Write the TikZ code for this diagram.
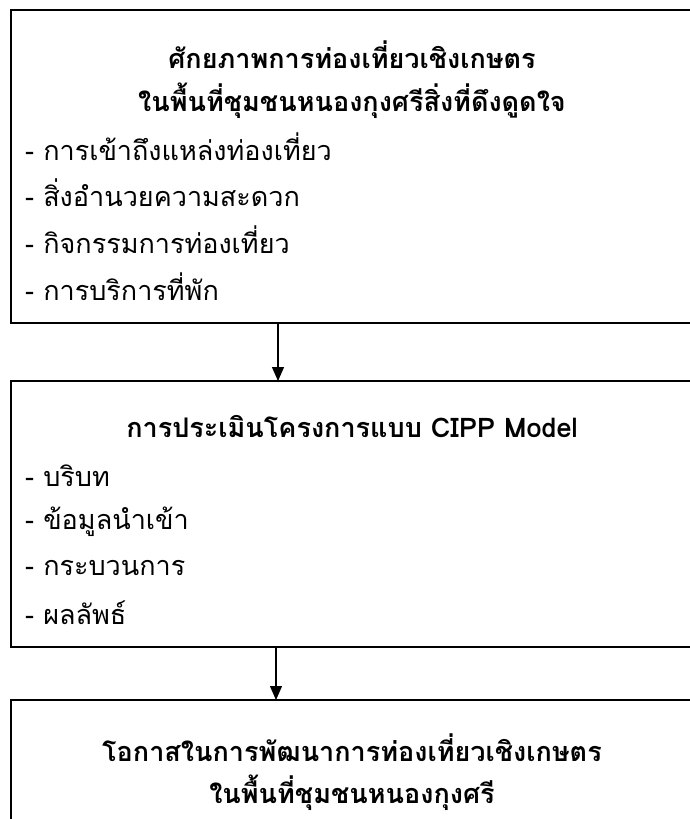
\documentclass[tikz,border=0pt]{standalone}
\usepackage{fontspec}
\newfontfamily\thaifont[Script=Thai]{Loma}
\usetikzlibrary{arrows.meta}
\begin{document}
\begin{tikzpicture}[x=1pt,y=-1pt,
  box/.style={draw=black,line width=1.3pt,rectangle,inner sep=0pt},
  title/.style={font=\thaifont\bfseries\fontsize{27}{32}\selectfont,inner sep=0pt,anchor=center},
  item/.style={font=\thaifont\fontsize{27}{32}\selectfont,inner sep=0pt,anchor=west},
  conn/.style={line width=1.3pt,-{Triangle[width=12pt,length=14pt]}}]
\useasboundingbox (0,0) rectangle (690,819);
\begin{scope}
\clip (0,0) rectangle (690,819);
\draw[box] (11,10) rectangle (694,323);
\draw[box] (11,381) rectangle (694,647);
\draw[box] (11,700) rectangle (694,830);
\end{scope}
\coordinate (b1s) at (278,323);
\coordinate (b2n) at (278,381);
\coordinate (b2s) at (276,647);
\coordinate (b3n) at (276,700);
\node[title] (t1a) at (352,55) {ศักยภาพการท่องเที่ยวเชิงเกษตร};
\node[title] (t1b) at (352,101) {ในพื้นที่ชุมชนหนองกุงศรีสิ่งที่ดึงดูดใจ};
\node[item] (i1) at (25,147) {- การเข้าถึงแหล่งท่องเที่ยว};
\node[item] (i2) at (25,193) {- สิ่งอำนวยความสะดวก};
\node[item] (i3) at (25,240) {- กิจกรรมการท่องเที่ยว};
\node[item] (i4) at (25,287) {- การบริการที่พัก};
\node[title] (t2) at (352,427) {การประเมินโครงการแบบ CIPP Model};
\node[item] (j1) at (25,476) {- บริบท};
\node[item] (j2) at (25,522) {- ข้อมูลนำเข้า};
\node[item] (j3) at (25,568) {- กระบวนการ};
\node[item] (j4) at (25,613) {- ผลลัพธ์};
\node[title] (t3a) at (352,748) {โอกาสในการพัฒนาการท่องเที่ยวเชิงเกษตร};
\node[title] (t3b) at (352,793) {ในพื้นที่ชุมชนหนองกุงศรี};
\draw[conn] (b1s) -- (b2n);
\draw[conn] (b2s) -- (b3n);
\end{tikzpicture}
\end{document}
